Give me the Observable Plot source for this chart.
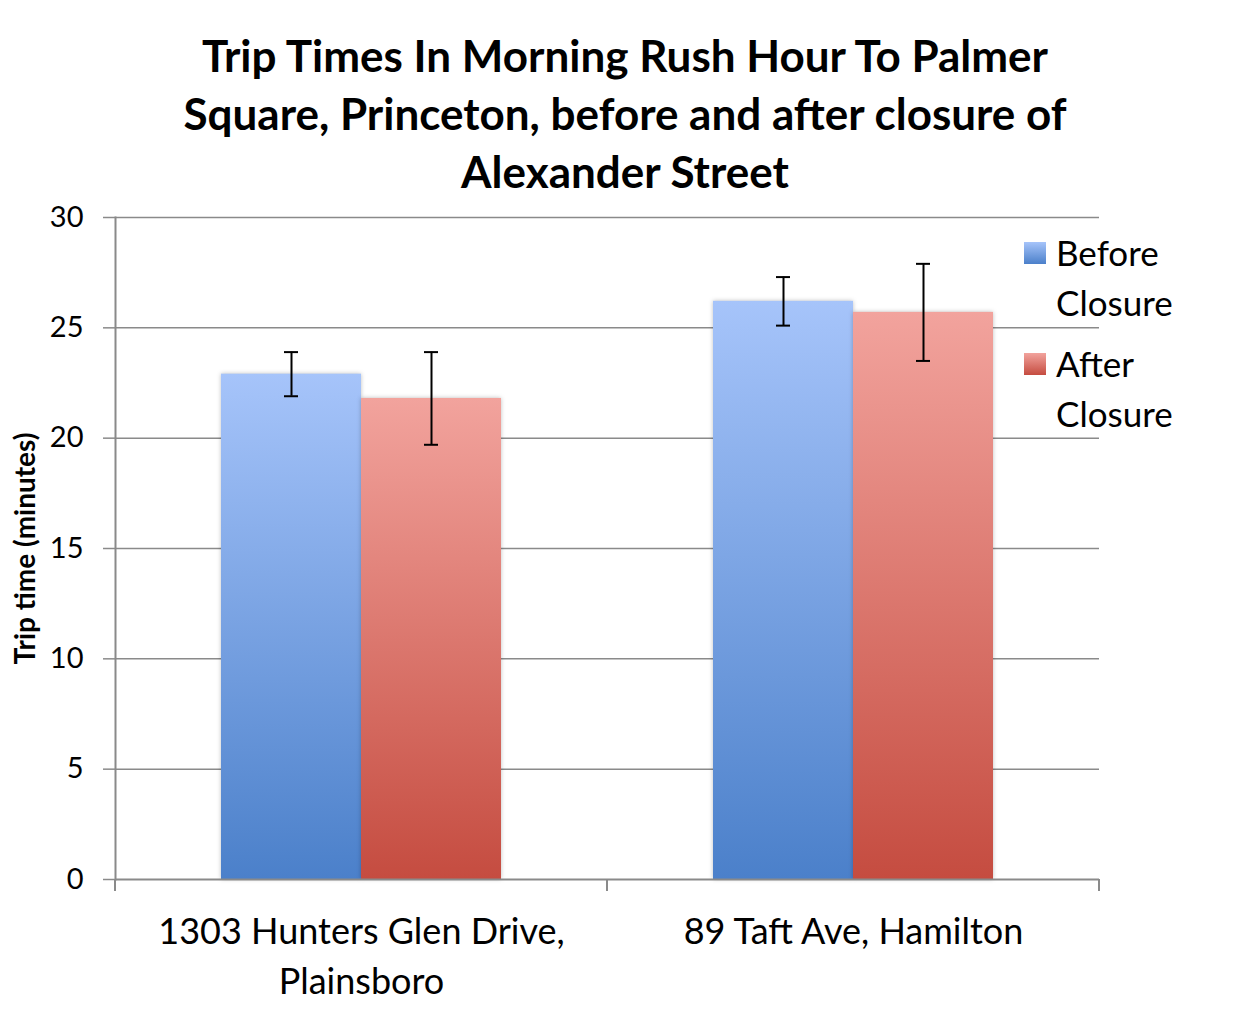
<!DOCTYPE html>
<html>
<head>
<meta charset="utf-8">
<script src="https://cdn.jsdelivr.net/npm/d3@7"></script>
<script src="https://cdn.jsdelivr.net/npm/@observablehq/plot@0.6"></script>
<style>
  body { margin: 0; background: #fff; font-family: Lato, "Open Sans", sans-serif; }
  #wrap { position: relative; width: 1250px; height: 1010px; }
  #title { height: 180px; box-sizing: border-box; padding-top: 26px; text-align: center;
           font-weight: bold; font-size: 44px; line-height: 58px; color: #000; }
  #legend { position: absolute; left: 1024px; top: 227px; }
  .item { position: relative; width: 200px; margin-bottom: 11px; }
  .sw { position: absolute; left: 0; top: 15px; width: 22px; height: 22px; }
  .lab { margin-left: 32px; font-size: 35px; line-height: 50px; color: #000; width: 160px; white-space: nowrap; }
  svg g[aria-label="bar"] rect { filter: drop-shadow(0 0 2px rgba(0,0,0,0.25)); }
  svg g[aria-label="y-axis label"] text { font-weight: bold; font-size: 28px; }
</style>
</head>
<body>
<div id="wrap">
  <div id="title"></div>
  <div id="chart"></div>
  <div id="legend"></div>
</div>
<svg width="0" height="0" style="position:absolute"><defs id="defs"></defs></svg>
<script>
const titleLines = ["Trip Times In Morning Rush Hour To Palmer", "Square, Princeton, before and after closure of", "Alexander Street"];
const categories = ["1303 Hunters Glen Drive, Plainsboro", "89 Taft Ave, Hamilton"];
const tickLabels = ["1303 Hunters Glen Drive,\nPlainsboro", "89 Taft Ave, Hamilton"];
const series = ["Before Closure", "After Closure"];
const legendLabels = ["Before\nClosure", "After\nClosure"];
const beforeValues = [22.9, 26.2];
const afterValues = [21.8, 25.7];
const beforeErr = [1.0, 1.1];
const afterErr = [2.1, 2.2];
const yTicks = [0, 5, 10, 15, 20, 25, 30];
const colorsTop = ["#a6c4fa", "#f2a39d"];
const colorsBottom = ["#4b80ca", "#c54c40"];
const gradIds = ["gradBefore", "gradAfter"];

document.getElementById("title").innerHTML = titleLines.join("<br>");

// gradients
const defs = d3.select("#defs");
series.forEach((s, i) => {
  const g = defs.append("linearGradient").attr("id", gradIds[i]).attr("x1", 0).attr("y1", 0).attr("x2", 0).attr("y2", 1);
  g.append("stop").attr("offset", "0%").attr("stop-color", colorsTop[i]);
  g.append("stop").attr("offset", "100%").attr("stop-color", colorsBottom[i]);
});

const data = categories.flatMap((c, i) => [
  {cat: c, series: series[0], value: beforeValues[i], err: beforeErr[i]},
  {cat: c, series: series[1], value: afterValues[i], err: afterErr[i]}
]);

const plot = Plot.plot({
  width: 1250, height: 830,
  marginTop: 37, marginBottom: 131, marginLeft: 115, marginRight: 151,
  style: {fontFamily: "Lato, 'Open Sans', sans-serif", color: "#000", background: "transparent", overflow: "visible"},
  fx: {domain: categories, padding: 0, axis: null},
  x: {domain: series, paddingInner: 0, paddingOuter: 0.757, axis: null},
  y: {domain: [0, 30], axis: null},
  marks: [
    Plot.gridY(yTicks.filter(d => d > 0), {stroke: "#8a8a8a", strokeOpacity: 1, strokeWidth: 1.5}),
    Plot.axisY({ticks: yTicks, tickSize: 12, tickPadding: 20, fontSize: 29, stroke: "#8a8a8a", strokeWidth: 1.5,
                label: "Trip time (minutes)", labelAnchor: "center", labelOffset: 100, labelArrow: "none"}),
    ...series.map((s, i) => Plot.barY(data.filter(d => d.series === s), {fx: "cat", x: "series", y: "value", fill: `url(#${gradIds[i]})`})),
    Plot.ruleX(data, {fx: "cat", x: "series", y1: d => d.value - d.err, y2: d => d.value + d.err, stroke: "#000", strokeWidth: 2}),
    Plot.tickY(data, {fx: "cat", x: "series", y: d => d.value - d.err, insetLeft: 63, insetRight: 63, stroke: "#000", strokeWidth: 2}),
    Plot.tickY(data, {fx: "cat", x: "series", y: d => d.value + d.err, insetLeft: 63, insetRight: 63, stroke: "#000", strokeWidth: 2}),
    Plot.ruleY([0], {stroke: "#8a8a8a", strokeWidth: 2}),
    Plot.frame({anchor: "left", facetAnchor: "left", stroke: "#8a8a8a", strokeWidth: 2}),
    Plot.axisFx({anchor: "bottom", tickSize: 0, tickPadding: 29, fontSize: 36, label: null,
                 tickFormat: d => tickLabels[categories.indexOf(d)], lineHeight: 1.39})
  ]
});
document.getElementById("chart").appendChild(plot);

// category boundary ticks on the x axis, from the fx scale
const fxs = plot.scale("fx");
const ys = plot.scale("y");
const band = d3.scaleBand().domain(fxs.domain).range(fxs.range).paddingInner(fxs.paddingInner ?? 0).paddingOuter(fxs.paddingOuter ?? 0);
const y0 = ys.apply ? ys.apply(0) : 879;
const bounds = fxs.domain.map(d => band(d)).concat([band(fxs.domain[fxs.domain.length - 1]) + band.bandwidth()]);
d3.select(plot).append("g").attr("stroke", "#8a8a8a").attr("stroke-width", 2)
  .selectAll("line").data(bounds).join("line")
  .attr("x1", d => d).attr("x2", d => d).attr("y1", y0).attr("y2", y0 + 12);

// legend
const leg = d3.select("#legend");
series.forEach((s, i) => {
  const it = leg.append("div").attr("class", "item");
  it.append("div").attr("class", "sw").style("background", `linear-gradient(${colorsTop[i]}, ${colorsBottom[i]})`);
  it.append("div").attr("class", "lab").html(legendLabels[i].replace("\n", "<br>"));
});
</script>
</body>
</html>
